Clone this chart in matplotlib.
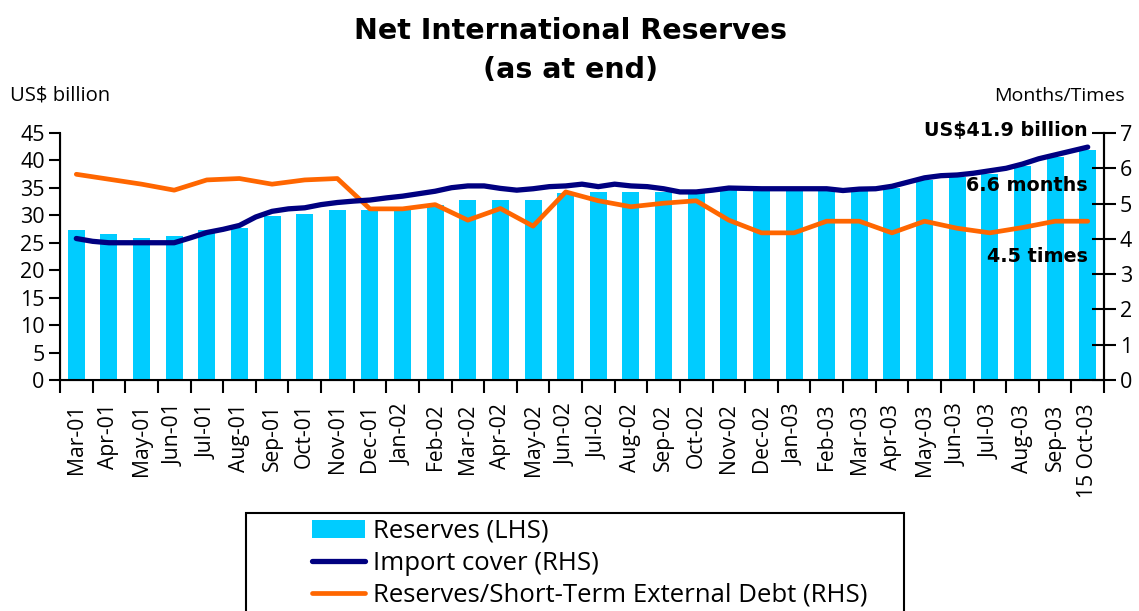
import numpy as np
import matplotlib
matplotlib.use("Agg")
import matplotlib.pyplot as plt
from matplotlib.patches import Rectangle, Patch
from matplotlib.lines import Line2D

plt.rcParams['font.family'] = ['Open Sans', 'DejaVu Sans']

# month-end labels, last point is mid-month
months = ['Mar-01', 'Apr-01', 'May-01', 'Jun-01', 'Jul-01', 'Aug-01', 'Sep-01',
          'Oct-01', 'Nov-01', 'Dec-01', 'Jan-02', 'Feb-02', 'Mar-02', 'Apr-02',
          'May-02', 'Jun-02', 'Jul-02', 'Aug-02', 'Sep-02', 'Oct-02', 'Nov-02',
          'Dec-02', 'Jan-03', 'Feb-03', 'Mar-03', 'Apr-03', 'May-03', 'Jun-03',
          'Jul-03', 'Aug-03', 'Sep-03', '15 Oct-03']

# US$ billion
reserves = [27.3, 26.6, 25.9, 26.2, 27.3, 27.7, 29.9, 30.2, 31.0, 31.0, 31.1,
            31.9, 32.8, 32.8, 32.8, 34.0, 34.3, 34.3, 34.3, 34.1, 34.6, 34.6,
            34.6, 34.6, 34.6, 34.9, 36.4, 37.0, 37.6, 38.9, 40.7, 41.9]

# reserves / short-term external debt, times
st_debt_ratio = [5.83, 5.69, 5.55, 5.38, 5.67, 5.71, 5.55, 5.67, 5.71, 4.85,
                 4.85, 4.97, 4.53, 4.86, 4.36, 5.33, 5.08, 4.91, 5.01, 5.08,
                 4.53, 4.17, 4.17, 4.5, 4.5, 4.17, 4.5, 4.30, 4.17, 4.32,
                 4.5, 4.5]

# import cover in months, sampled twice a month
import_cover = [4.01, 3.93, 3.89, 3.89, 3.89, 3.89, 3.89, 4.03, 4.18, 4.27,
                4.38, 4.62, 4.78, 4.85, 4.88, 4.97, 5.03, 5.07, 5.10, 5.16,
                5.21, 5.28, 5.35, 5.45, 5.50, 5.50, 5.43, 5.38, 5.42, 5.48,
                5.50, 5.55, 5.48, 5.55, 5.50, 5.48, 5.42, 5.33, 5.33, 5.38,
                5.44, 5.43, 5.42, 5.42, 5.42, 5.42, 5.42, 5.37, 5.41, 5.42,
                5.49, 5.61, 5.73, 5.79, 5.81, 5.86, 5.93, 6.00, 6.12, 6.27,
                6.38, 6.49, 6.6]

bar_color = '#00CCFF'
navy = '#000080'
orange = '#FF6600'

W, H = 1139, 611
fig = plt.figure(figsize=(W / 100, H / 100), dpi=100)
ax = fig.add_axes([60 / W, 1 - 380 / H, 1044 / W, 247 / H])

x = np.arange(len(months))
x_half = np.arange(len(import_cover)) / 2

ax.bar(x, reserves, width=0.52, color=bar_color, zorder=1)
ax.set_xlim(-0.5, len(months) - 0.5)
ax.set_ylim(0, 45)
ax.set_yticks(np.arange(0, 46, 5))
ax.set_xticks(x)
ax.set_xticklabels(months, rotation=90, fontsize=15.2)
ax.set_xticks(np.arange(-0.5, len(months), 1), minor=True)
ax.tick_params(axis='x', which='major', length=0, pad=17)
ax.tick_params(axis='x', which='minor', length=9, width=1.5, direction='out')
ax.tick_params(axis='y', length=8, width=1.5, direction='out', labelsize=15.5, pad=3)
for side in ['left', 'bottom', 'right']:
    ax.spines[side].set_linewidth(1.5)
ax.spines['top'].set_visible(False)

ax2 = ax.twinx()
ax2.plot(x_half, import_cover, color=navy, lw=3.8, solid_capstyle='round', zorder=3)
ax2.plot(x, st_debt_ratio, color=orange, lw=3.4, solid_capstyle='round', zorder=2)
ax2.set_ylim(0, 7)
ax2.set_yticks(range(0, 8))
ax2.tick_params(axis='y', length=17, width=1.5, direction='inout', labelsize=15.5, pad=3)
ax2.spines['top'].set_visible(False)
ax2.spines['right'].set_linewidth(1.5)

# end-point labels
bold = dict(fontsize=13.8, fontweight='bold', family='DejaVu Sans', ha='right', va='center')
ax2.text(31.0, 7.06, f'US${reserves[-1]:.1f} billion', **bold)
ax2.text(31.0, 5.50, f'{import_cover[-1]:.1f} months', **bold)
ax2.text(31.0, 3.49, f'{st_debt_ratio[-1]:.1f} times', **bold)

fig.text(571 / W, 1 - 31 / H, 'Net International Reserves', ha='center', va='center',
         fontsize=20.5, fontweight='bold', family='DejaVu Sans')
fig.text(571 / W, 1 - 70 / H, '(as at end)', ha='center', va='center',
         fontsize=20.5, fontweight='bold', family='DejaVu Sans')
fig.text(10 / W, 1 - 96 / H, 'US$ billion', ha='left', va='center', fontsize=14.6)
fig.text(1125 / W, 1 - 96 / H, 'Months/Times', ha='right', va='center', fontsize=14.0)

# legend box runs off the bottom edge
fig.patches.append(Rectangle((246 / W, -0.05), 658 / W, 0.05 + (H - 513) / H,
                             transform=fig.transFigure, fill=False,
                             edgecolor='black', lw=1.5))
handles = [Patch(facecolor=bar_color, edgecolor='none'),
           Line2D([], [], color=navy, lw=3.8, solid_capstyle='round'),
           Line2D([], [], color=orange, lw=3.4, solid_capstyle='round')]
labels = ['Reserves (LHS)', 'Import cover (RHS)',
          'Reserves/Short-Term External Debt (RHS)']
fig.legend(handles, labels, loc='upper left', bbox_to_anchor=(312 / W, 1 - 519 / H),
           frameon=False, fontsize=18.5, handlelength=2.06, handleheight=0.66,
           handletextpad=0.31, labelspacing=0.265, borderpad=0, borderaxespad=0)

fig.savefig('out.png', dpi=100)
